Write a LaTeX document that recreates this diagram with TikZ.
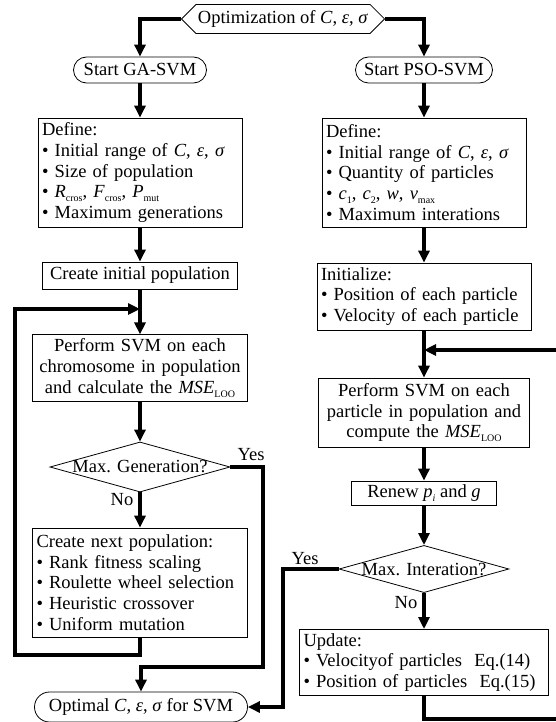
\documentclass[tikz,border=0pt]{standalone}
\usepackage{fontspec}
\setmainfont{Liberation Serif}
\usetikzlibrary{shapes.geometric,shapes.symbols,arrows.meta}
\newcommand{\idx}[1]{\raisebox{-0.45ex}{\fontsize{10}{10}\selectfont #1}}
\newcommand{\cesig}{\textit{C}, \textit{ε}, \textit{σ}}

\begin{document}
\begin{tikzpicture}[x=1pt, y=-1pt,
  font=\fontsize{18.5}{20.7}\selectfont,
  box/.style={draw, line width=0.8pt, inner sep=4pt},
  lbox/.style={box, align=left},
  cbox/.style={box, align=center},
  term/.style={draw, line width=0.8pt, rounded corners=13pt, inner sep=2pt},
  test/.style={draw, line width=0.8pt, diamond, aspect=3.6, inner sep=0pt},
  flow/.style={line width=3.5pt, -{Triangle[length=12pt,width=11pt]}}]
  \useasboundingbox (0,0) rectangle (555,722);
  \node[draw, line width=0.8pt, signal, signal to=west and east, minimum height=29pt, inner sep=2pt] (opt) at (283,19) {Optimization of \cesig};
  \node[term, minimum width=133pt, minimum height=26pt] (gastart) at (140,70) {Start GA-SVM};
  \node[term, minimum width=137pt, minimum height=26pt] (psostart) at (424,70) {Start PSO-SVM};
  \node[lbox, text width=196pt, minimum height=109pt] (gadef) at (140,172.5) {Define:\\
    \textbullet\ Initial range of \cesig\\
    \textbullet\ Size of population\\
    \textbullet\ \textit{R}\idx{cros}, \textit{F}\idx{cros}, \textit{P}\idx{mut}\\
    \textbullet\ Maximum generations};
  \node[cbox, minimum width=195pt, minimum height=27pt, inner sep=2pt] (gainit) at (140,275.5) {Create initial population};
  \node[cbox, text width=207pt, minimum height=64pt] (gaeval) at (140,368) {Perform SVM on each\\
    chromosome in population\\
    and calculate the \textit{MSE}\idx{LOO}};
  \node[test] (gadec) at (140,467) {Max. Generation?};
  \node[lbox, text width=207pt, minimum height=109pt] (ganext) at (140,582.5) {Create next population:\\
    \textbullet\ Rank fitness scaling\\
    \textbullet\ Roulette wheel selection\\
    \textbullet\ Heuristic crossover\\
    \textbullet\ Uniform mutation};
  \node[term, minimum width=213pt, minimum height=30pt, rounded corners=15pt] (best) at (141,707) {Optimal \cesig\ for SVM};
  \node[lbox, text width=196pt, minimum height=109pt] (psodef) at (424,172.5) {Define:\\
    \textbullet\ Initial range of \cesig\\
    \textbullet\ Quantity of particles\\
    \textbullet\ \textit{c}\idx{1}, \textit{c}\idx{2}, \textit{w}, \textit{v}\idx{max}\\
    \textbullet\ Maximum interations};
  \node[lbox, text width=206pt, minimum height=67pt] (psoinit) at (424,296.5) {Initialize:\\
    \textbullet\ Position of each particle\\
    \textbullet\ Velocity of each particle};
  \node[cbox, text width=203pt, minimum height=69pt] (psoeval) at (424,412.5) {Perform SVM on each\\
    particle in population and\\
    compute the \textit{MSE}\idx{LOO}};
  \node[cbox, minimum width=145pt, minimum height=24pt, inner sep=2pt] (psorenew) at (424,493) {Renew \textit{p}\idx{\textit{i}} and \textit{g}};
  \node[test] (psodec) at (424,569) {Max. Interation?};
  \node[lbox, text width=241pt, minimum height=61pt] (psoupd) at (424,662.5) {Update:\\
    \textbullet\ Velocityof particles~ Eq.(14)\\
    \textbullet\ Position of particles~ Eq.(15)};
  \node[inner sep=0pt] (gayes) at (251,455) {Yes};
  \node[inner sep=0pt] (gano) at (122,500) {No};
  \node[inner sep=0pt] (psoyes) at (305,559) {Yes};
  \node[inner sep=0pt] (psono) at (406,603) {No};
  \coordinate (gaback) at (15,655);
  \coordinate (gajoin) at (140,309);
  \coordinate (gaout) at (263,667);
  \coordinate (psoout) at (283,600);
  \coordinate (psoback) at (562,719);
  \coordinate (psojoin) at (424,350);
  \draw[flow] (opt.west) -| (gastart.north);
  \draw[flow] (opt.east) -| (psostart.north);
  \draw[flow] (gastart) -- (gadef);
  \draw[flow] (gadef) -- (gainit);
  \draw[flow] (gainit) -- (gaeval);
  \draw[flow] (gaeval) -- (gadec);
  \draw[flow] (gadec) -- (ganext);
  \draw[flow] (ganext.south) |- (gaback) |- (gajoin);
  \draw[flow] (gadec.east) -| (gaout) -| (best.north);
  \draw[flow] (psostart) -- (psodef);
  \draw[flow] (psodef) -- (psoinit);
  \draw[flow] (psoinit) -- (psoeval);
  \draw[flow] (psoeval) -- (psorenew);
  \draw[flow] (psorenew) -- (psodec);
  \draw[flow] (psodec) -- (psoupd);
  \draw[flow] (psodec.west) -| (psoout) |- (best.east);
  \draw[flow] (psoupd.south) |- (psoback) |- (psojoin);
\end{tikzpicture}
\end{document}
